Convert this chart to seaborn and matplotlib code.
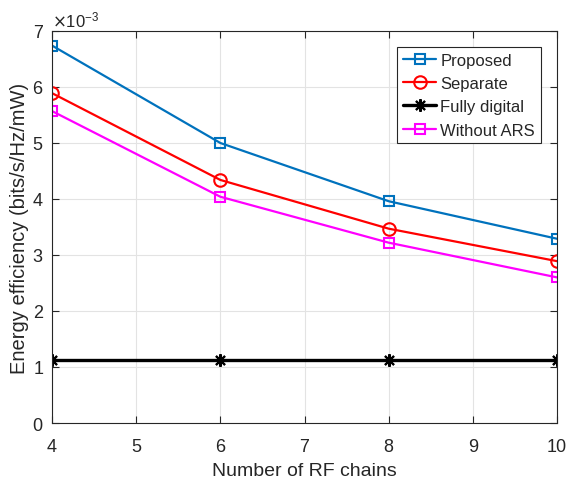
import matplotlib
matplotlib.use("Agg")
import matplotlib.pyplot as plt
import seaborn as sns
import numpy as np

sns.set_style("ticks")
plt.rcParams["font.family"] = ["Liberation Sans", "DejaVu Sans"]

rf_chains = [4, 6, 8, 10]
proposed = [6.74, 5.00, 3.96, 3.29]
separate = [5.89, 4.34, 3.47, 2.89]
fully_digital = [1.13, 1.13, 1.13, 1.13]
without_ars = [5.57, 4.04, 3.22, 2.60]
scale = 1e-3

series = [
    ("Proposed", proposed, "#0072BD", "s", 7, 1.6, 1.5),
    ("Separate", separate, "#FF0000", "o", 9, 1.6, 1.5),
    ("Fully digital", fully_digital, "#000000", (8, 2, 0), 9, 2.4, 1.5),
    ("Without ARS", without_ars, "#FF00FF", "s", 7, 1.6, 1.5),
]

fig = plt.figure(figsize=(5.69, 4.81), dpi=100)
ax = fig.add_axes([0.0914, 0.1185, 0.8876, 0.8150])

for name, vals, color, marker, ms, lw, mew in series:
    sns.lineplot(x=rf_chains, y=np.array(vals) * scale, ax=ax, label=name,
                 color=color, marker=marker, markersize=ms, linewidth=lw,
                 markerfacecolor="none", markeredgecolor=color,
                 markeredgewidth=mew)

ax.set_xlim(4, 10)
ax.set_ylim(0, 7e-3)
ax.set_xticks(range(4, 11))
ax.set_yticks(np.arange(0, 8) * 1e-3)
ax.ticklabel_format(axis="y", style="sci", scilimits=(-3, -3), useMathText=True)
ax.yaxis.get_offset_text().set_fontsize(12)
ax.yaxis.get_offset_text().set_color("#262626")

ax.grid(True, color="#e3e3e3", linewidth=0.8)
ax.set_axisbelow(True)
for s in ax.spines.values():
    s.set_color("#262626")
    s.set_linewidth(0.8)
ax.tick_params(direction="in", top=True, right=True, labelsize=13,
               colors="#262626", length=5, width=0.8)
ax.tick_params(axis="x", pad=11)
ax.tick_params(axis="y", pad=6)

ax.set_xlabel("Number of RF chains", fontsize=14, color="#262626", labelpad=5)
ax.set_ylabel("Energy efficiency (bits/s/Hz/mW)", fontsize=14.5, color="#262626",
              labelpad=2)

leg = ax.legend(loc="upper right", bbox_to_anchor=(0.968, 0.960), fontsize=12,
                frameon=True, fancybox=False, edgecolor="#262626",
                framealpha=1, handlelength=2.0, borderpad=0.35,
                labelspacing=0.5, handletextpad=0.25, borderaxespad=0)
leg.get_frame().set_linewidth(0.8)

fig.savefig("out.png", dpi=100, facecolor="white")
